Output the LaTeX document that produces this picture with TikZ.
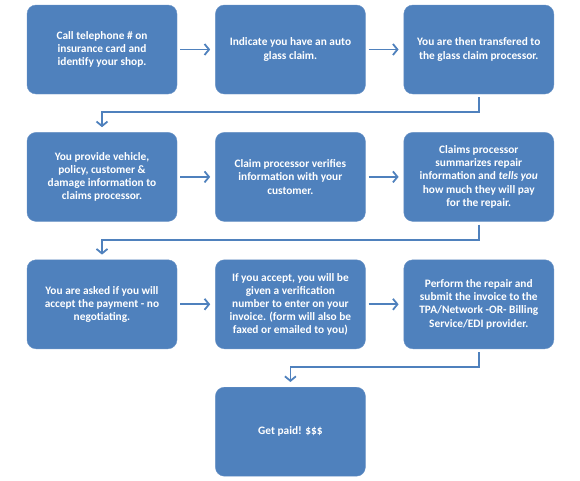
\documentclass[tikz,border=0pt]{standalone}
\usepackage{fontspec}
\setmainfont{Carlito}
\usepackage{xcolor}
\usepackage{tikz}
\usetikzlibrary{arrows.meta, positioning}
\definecolor{stepblue}{HTML}{4F81BD}
\definecolor{edgeblue}{HTML}{6A93C6}

\begin{document}
\begin{tikzpicture}[
        % Define common styles for nodes
        block/.style={rectangle, draw=edgeblue, fill=stepblue, text=white, minimum width=150bp, minimum height=89bp,
                      align=center, rounded corners=9bp, font=\fontsize{11.4}{13.2}\selectfont\bfseries, inner sep=2bp},
        line/.style={draw=stepblue, line width=1.8bp, -{Straight Barb[length=4.5bp, width=11bp]}, shorten <=3bp, shorten >=5bp},
        node distance=38bp and 38bp,
    ]
    \useasboundingbox (0,0) rectangle (580bp,-481bp);

    % First row
    \node (call_insurer) [block] at (102bp,-49.5bp) {Call telephone \# on\\insurance card and\\identify your shop.};
    \node (indicate_claim) [block, right=of call_insurer] {Indicate you have an auto\\glass claim.};
    \node (transfer) [block, right=of indicate_claim] {You are then transfered to\\the glass claim processor.};

    % Second row
    \node (provide_info) [block, below=of call_insurer] {You provide vehicle,\\policy, customer \&\\damage information to\\claims processor.};
    \node (verify_info) [block, right=of provide_info] {Claim processor verifies\\information with your\\customer.};
    \node (summarize) [block, right=of verify_info] {Claims processor\\summarizes repair\\information and \textit{tells you}\\how much they will pay\\for the repair.};

    % Third row
    \node (accept_payment) [block, below=of provide_info] {You are asked if you will\\accept the payment - no\\negotiating.};
    \node (verification_no) [block, right=of accept_payment] {If you accept, you will be\\given a verification\\number to enter on your\\invoice. (form will also be\\faxed or emailed to you)};
    \node (submit_invoice) [block, right=of verification_no] {Perform the repair and\\submit the invoice to the\\TPA/Network -OR- Billing\\Service/EDI provider.};

    % Last step
    \node (get_paid) [block, below=of verification_no] {Get paid! \$\$\$};

    % Draw connections/arrows
    \draw[line] (call_insurer.east) -- (indicate_claim.west);
    \draw[line] (indicate_claim.east) -- (transfer.west);
    \draw[line] (transfer.south) -- ++(0,-18bp) -| (provide_info.north);

    \draw[line] (provide_info.east) -- (verify_info.west);
    \draw[line] (verify_info.east) -- (summarize.west);
    \draw[line] (summarize.south) -- ++(0,-18bp) -| (accept_payment.north);

    \draw[line] (accept_payment.east) -- (verification_no.west);
    \draw[line] (verification_no.east) -- (submit_invoice.west);
    \draw[line] (submit_invoice.south) -- ++(0,-18bp) -| (get_paid.north);

\end{tikzpicture}
\end{document}
